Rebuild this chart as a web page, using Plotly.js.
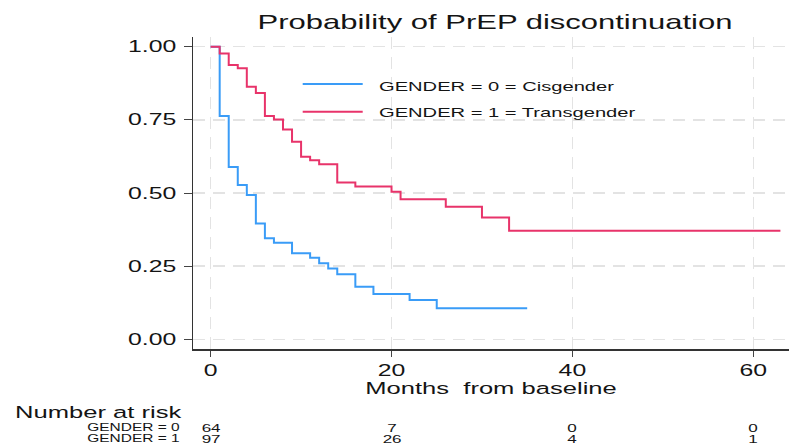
<!DOCTYPE html>
<html>
<head>
<meta charset="utf-8">
<script src="https://cdn.plot.ly/plotly-3.0.1.min.js"></script>
<style>
  html, body { margin: 0; padding: 0; background: #ffffff; }
  #chart { width: 789px; height: 448px; }
</style>
</head>
<body>
<div id="chart"></div>
<script>
// Kaplan-Meier estimates of remaining on PrEP, by gender group
const monthsCis   = [0, 1, 2, 3, 4, 5, 6, 7, 9, 11, 12, 13, 14, 16, 18, 22, 25, 35];
const survCis     = [1.000, 0.763, 0.589, 0.527, 0.493, 0.396, 0.345, 0.330, 0.294, 0.279, 0.260, 0.242, 0.222, 0.180, 0.155, 0.134, 0.106, 0.106];
const monthsTrans = [0, 1, 2, 3, 4, 5, 6, 7, 8, 9, 10, 11, 12, 14, 16, 20, 21, 26, 30, 33, 63];
const survTrans   = [1.000, 0.977, 0.937, 0.926, 0.863, 0.842, 0.763, 0.751, 0.717, 0.675, 0.624, 0.612, 0.598, 0.536, 0.522, 0.504, 0.479, 0.453, 0.416, 0.371, 0.371];

// Number-at-risk table
const riskTimes   = [0, 20, 40, 60];
const riskCis     = [64, 7, 0, 0];
const riskTrans   = [97, 26, 4, 1];
const groupLabels = ['GENDER = 0', 'GENDER = 1'];

const seriesNames = ['GENDER = 0 = Cisgender', 'GENDER = 1 = Transgender'];
const xTicks      = [0, 20, 40, 60];
const yTicks      = [0, 0.25, 0.5, 0.75, 1];
const yTickText   = ['0.00', '0.25', '0.50', '0.75', '1.00'];

const BLUE = '#3a9cf7';
const RED  = '#e8336a';
const FONT = 'Liberation Sans, Arial, sans-serif';
const INK  = '#141414';

// plot box in pixels (used to place the legend and risk table in paper units)
const L = 193, T = 37, W = 596, H = 312;
const px = v => (v - L) / W;
const py = v => (T + H - v) / H;

const traces = [
  { x: monthsCis, y: survCis, name: seriesNames[0], mode: 'lines',
    line: { color: BLUE, width: 2, shape: 'hv' }, showlegend: false },
  { x: monthsTrans, y: survTrans, name: seriesNames[1], mode: 'lines',
    line: { color: RED, width: 2, shape: 'hv' }, showlegend: false }
];

const annotations = [];
const shapes = [];

// legend entries
[[BLUE, 84, 86], [RED, 111.7, 112.5]].forEach((e, i) => {
  shapes.push({ type: 'line', xref: 'paper', yref: 'paper',
    x0: px(302.7), x1: px(362.7), y0: py(e[1]), y1: py(e[1]),
    line: { color: e[0], width: 2 } });
  annotations.push({ xref: 'paper', yref: 'paper', x: px(377), y: py(e[2]),
    xanchor: 'left', yanchor: 'middle', align: 'left', showarrow: false,
    text: seriesNames[i], font: { family: FONT, size: 13, color: INK } });
});

// number at risk
annotations.push({ xref: 'paper', yref: 'paper', x: px(13), y: py(411.5),
  xanchor: 'left', yanchor: 'middle', align: 'left', showarrow: false,
  text: 'Number at risk', font: { family: FONT, size: 16.5, color: INK } });
[[riskCis, 427.8], [riskTrans, 438.8]].forEach((row, i) => {
  annotations.push({ xref: 'paper', yref: 'paper', x: px(181.7), y: py(row[1]),
    xanchor: 'right', yanchor: 'middle', align: 'right', showarrow: false,
    text: groupLabels[i], font: { family: FONT, size: 10, color: INK } });
  riskTimes.forEach((t, j) => {
    annotations.push({ xref: 'x', yref: 'paper', x: t, y: py(row[1]),
      xanchor: 'center', yanchor: 'middle', showarrow: false,
      text: String(row[0][j]), font: { family: FONT, size: 11, color: INK } });
  });
});

const gridStyle = { showgrid: true, gridcolor: '#e3e3e3', gridwidth: 1.5, griddash: '12px,8px' };

const layout = {
  width: 789, height: 448,
  margin: { l: L, r: 789 - L - W, t: T, b: 448 - T - H, pad: 0 },
  paper_bgcolor: '#ffffff', plot_bgcolor: '#ffffff',
  font: { family: FONT, color: INK },
  showlegend: false,
  title: { text: 'Probability of PrEP discontinuation', font: { family: FONT, size: 20, color: INK },
    xref: 'container', x: 495 / 789, xanchor: 'center', yref: 'container', y: 1 - 22 / 448, yanchor: 'middle' },
  xaxis: Object.assign({
    range: [-1.95, 63.95], tickvals: xTicks, ticktext: xTicks.map(String),
    ticks: 'outside', ticklen: 6, tickcolor: '#444', tickwidth: 1,
    showline: true, linecolor: '#333', linewidth: 1.5, zeroline: false,
    tickfont: { family: FONT, size: 16, color: INK },
    title: { text: 'Months\u00a0 from baseline', font: { family: FONT, size: 16.5, color: INK }, standoff: 5 }
  }, gridStyle),
  yaxis: Object.assign({
    range: [-0.033, 1.033], tickvals: yTicks, ticktext: yTickText,
    ticks: 'outside', ticklen: 8, tickcolor: '#444', tickwidth: 1,
    showline: true, linecolor: '#333', linewidth: 1.5, zeroline: false,
    ticklabelstandoff: 4,
    tickfont: { family: FONT, size: 16, color: INK }
  }, gridStyle),
  shapes: shapes,
  annotations: annotations
};

// the lettering of this figure is set wide; stretch each label about its anchor
const SX = 1.55;
function widenText(gd) {
  gd.querySelectorAll('svg text').forEach(t => {
    const cur = t.getAttribute('transform') || '';
    if (cur.indexOf('scale(' + SX) !== -1) return;
    const x = parseFloat(t.getAttribute('x')) || 0;
    t.setAttribute('transform', (cur + ' translate(' + x + ',0) scale(' + SX + ',1) translate(' + (-x) + ',0)').trim());
  });
}

const gd = document.getElementById('chart');
Plotly.newPlot(gd, traces, layout, { displayModeBar: false, staticPlot: true }).then(() => {
  widenText(gd);
  gd.on('plotly_afterplot', () => widenText(gd));
});
</script>
</body>
</html>
